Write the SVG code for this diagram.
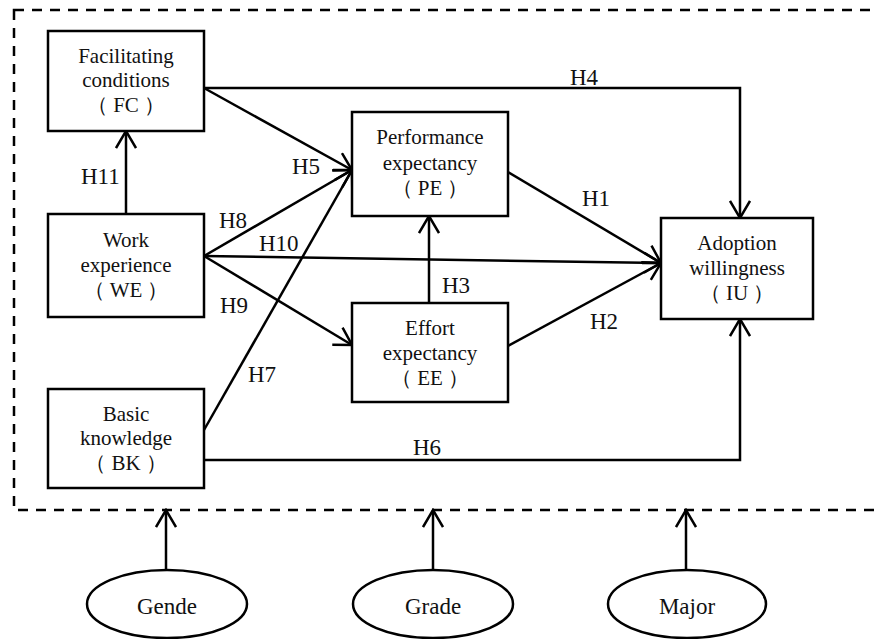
<svg xmlns="http://www.w3.org/2000/svg" width="878" height="639" viewBox="0 0 878 639">
<defs>
<marker id="arr" markerUnits="userSpaceOnUse" viewBox="0 0 20 22" refX="18" refY="11" markerWidth="20" markerHeight="22" orient="auto">
<path d="M1,1 L18,11 L1,21" fill="none" stroke="#000" stroke-width="2.5"/>
</marker>
<style>
.box{fill:#fff;stroke:#000;stroke-width:2.5}
.ell{fill:#fff;stroke:#000;stroke-width:2.5}
.t{font-family:"Liberation Serif",Tinos,"Times New Roman",serif;font-size:21px;fill:#111;text-anchor:middle}
.lb{font-family:"Liberation Serif",Tinos,"Times New Roman",serif;font-size:23px;fill:#111}
.et{font-family:"Liberation Serif",Tinos,"Times New Roman",serif;font-size:23px;fill:#111;text-anchor:middle}
.ca{fill:none;stroke:#000;stroke-width:2.5;marker-end:url(#arr)}
</style>
</defs>
<rect width="878" height="639" fill="#fff"/>
<rect x="14" y="10" width="900" height="500" fill="none" stroke="#000" stroke-width="2.5" stroke-dasharray="10,8"/>

<g id="connectors">
<path class="ca" d="M204,88 H740 V218"/>
<path class="ca" d="M204,460 H740 V319"/>
<line class="ca" x1="204" y1="88" x2="352" y2="170"/>
<line class="ca" x1="204" y1="256" x2="352" y2="170"/>
<line class="ca" x1="204" y1="430" x2="352" y2="170"/>
<line class="ca" x1="204" y1="256" x2="352" y2="345"/>
<line class="ca" x1="204" y1="256" x2="661" y2="263"/>
<line class="ca" x1="508" y1="172" x2="661" y2="263"/>
<line class="ca" x1="508" y1="346" x2="661" y2="263"/>
<line class="ca" x1="429" y1="303" x2="429" y2="216"/>
<line class="ca" x1="126" y1="214" x2="126" y2="131"/>
<line class="ca" x1="166" y1="570" x2="166" y2="510"/>
<line class="ca" x1="433" y1="570" x2="433" y2="510"/>
<line class="ca" x1="686" y1="570" x2="686" y2="510"/>
<text class="lb" x="570" y="85">H4</text>
<text class="lb" x="292" y="174">H5</text>
<text class="lb" x="81" y="184">H11</text>
<text class="lb" x="219" y="228">H8</text>
<text class="lb" x="259" y="251">H10</text>
<text class="lb" x="220" y="313">H9</text>
<text class="lb" x="248" y="382">H7</text>
<text class="lb" x="442" y="293">H3</text>
<text class="lb" x="582" y="206">H1</text>
<text class="lb" x="590" y="329">H2</text>
<text class="lb" x="413" y="455">H6</text>
</g>

<g id="FC">
<rect class="box" x="48" y="31" width="156" height="100"/>
<text class="t" x="126" y="63">Facilitating</text>
<text class="t" x="126" y="87">conditions</text>
<text class="t" x="126" y="112">（<tspan dx="5">FC</tspan><tspan dx="5">）</tspan></text>
</g>
<g id="WE">
<rect class="box" x="48" y="214" width="156" height="103"/>
<text class="t" x="126" y="247">Work</text>
<text class="t" x="126" y="272">experience</text>
<text class="t" x="126" y="297">（<tspan dx="5">WE</tspan><tspan dx="5">）</tspan></text>
</g>
<g id="BK">
<rect class="box" x="48" y="389" width="156" height="99"/>
<text class="t" x="126" y="421">Basic</text>
<text class="t" x="126" y="445">knowledge</text>
<text class="t" x="126" y="470">（<tspan dx="5">BK</tspan><tspan dx="5">）</tspan></text>
</g>
<g id="PE">
<rect class="box" x="352" y="112" width="156" height="104"/>
<text class="t" x="430" y="144">Performance</text>
<text class="t" x="430" y="170">expectancy</text>
<text class="t" x="430" y="195">（<tspan dx="5">PE</tspan><tspan dx="5">）</tspan></text>
</g>
<g id="EE">
<rect class="box" x="352" y="303" width="156" height="99"/>
<text class="t" x="430" y="335">Effort</text>
<text class="t" x="430" y="360">expectancy</text>
<text class="t" x="430" y="385">（<tspan dx="5">EE</tspan><tspan dx="5">）</tspan></text>
</g>
<g id="IU">
<rect class="box" x="661" y="218" width="152" height="101"/>
<text class="t" x="737" y="250">Adoption</text>
<text class="t" x="737" y="275">willingness</text>
<text class="t" x="737" y="300">（<tspan dx="5">IU</tspan><tspan dx="5">）</tspan></text>
</g>
<g id="Gende">
<ellipse class="ell" cx="167" cy="604" rx="80" ry="34"/>
<text class="et" x="167" y="614">Gende</text>
</g>
<g id="Grade">
<ellipse class="ell" cx="433" cy="604" rx="80" ry="34"/>
<text class="et" x="433" y="614">Grade</text>
</g>
<g id="Major">
<ellipse class="ell" cx="687" cy="604" rx="79" ry="34"/>
<text class="et" x="687" y="614">Major</text>
</g>
</svg>
